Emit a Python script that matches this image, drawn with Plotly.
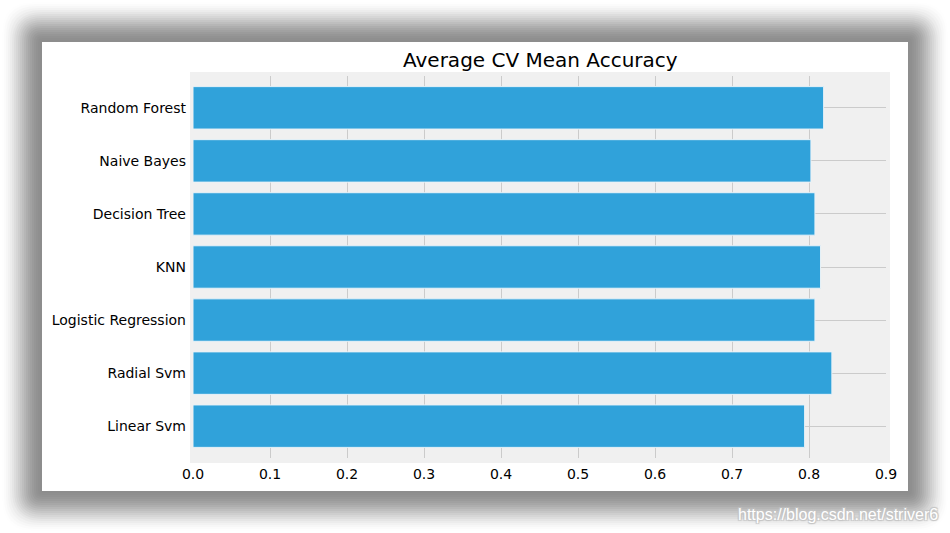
import math
import plotly.graph_objects as go

models = ["Linear Svm", "Radial Svm", "Logistic Regression", "KNN",
          "Decision Tree", "Naive Bayes", "Random Forest"]
accuracy = [0.7943, 0.8297, 0.8077, 0.8150, 0.8077, 0.8025, 0.8190]
x_ticks = [0.0, 0.1, 0.2, 0.3, 0.4, 0.5, 0.6, 0.7, 0.8, 0.9]
title_text = "Average CV Mean Accuracy"
watermark = "https://blog.csdn.net/striver6"

W, H = 950, 533
L, R, T, B = 193, 886, 76, 458  # plot-area pixel box


def px(x, y):
    return (x - L) / (R - L), (B - y) / (B - T)


def rrect_path(x0, y0, x1, y1, r):
    def P(x, y):
        a, b = px(x, y)
        return f"{a:.5f},{b:.5f}"
    d = f"M {P(x0 + r, y0)} L {P(x1 - r, y0)} Q {P(x1, y0)} {P(x1, y0 + r)} "
    d += f"L {P(x1, y1 - r)} Q {P(x1, y1)} {P(x1 - r, y1)} "
    d += f"L {P(x0 + r, y1)} Q {P(x0, y1)} {P(x0, y1 - r)} "
    d += f"L {P(x0, y0 + r)} Q {P(x0, y0)} {P(x0 + r, y0)} Z"
    return d


# soft drop shadow built from stacked translucent rounded rectangles
SPREAD = 42.0


def shadow_alpha(d):
    t = min(max(d / SPREAD, 0.0), 1.0)
    s = 1 - (3 * t * t - 2 * t * t * t)
    return 0.42 * s


shapes = []
cx0, cy0, cx1, cy1 = 42, 42, 908, 491
steps = list(range(2, 46, 2))  # expansions in px
trans = [1 - shadow_alpha(e - 1) for e in steps] + [1.0]
for k in range(len(steps) - 1, -1, -1):
    e = steps[k]
    a = 1 - trans[k] / trans[k + 1]
    if a <= 0.0005:
        continue
    shapes.append(dict(type="path", xref="paper", yref="paper", layer="below",
                       path=rrect_path(cx0 - e, cy0 - e, cx1 + e, cy1 + e, min(e, 30)),
                       fillcolor=f"rgba(0,0,0,{a:.4f})", line=dict(width=0)))
# white card
a0, b0 = px(cx0, cy1)
a1, b1 = px(cx1, cy0)
shapes.append(dict(type="rect", xref="paper", yref="paper", layer="below",
                   x0=a0, y0=b0, x1=a1, y1=b1, fillcolor="white", line=dict(width=0)))
# axes background (slightly larger than data area like mpl edge)
a0, b0 = px(190, 463)
a1, b1 = px(890, 72)
shapes.append(dict(type="rect", xref="paper", yref="paper", layer="below",
                   x0=a0, y0=b0, x1=a1, y1=b1, fillcolor="#f0f0f0", line=dict(width=0)))

fig = go.Figure(go.Bar(
    x=accuracy, y=models, orientation="h", width=0.8,
    marker=dict(color="#30a2da", line=dict(color="#e8f2f8", width=1)),
))

wx, wy = px(940, 514)
title_x, title_y = px(540, 60)

fig.update_layout(
    width=W, height=H,
    margin=dict(l=L, r=W - R, t=T, b=H - B, pad=0),
    paper_bgcolor="white", plot_bgcolor="rgba(0,0,0,0)",
    font=dict(family="DejaVu Sans", size=14, color="#000000"),
    showlegend=False,
    shapes=shapes,
    annotations=[
        dict(text=title_text, xref="paper", yref="paper", x=title_x, y=title_y,
             xanchor="center", yanchor="middle", showarrow=False,
             font=dict(family="DejaVu Sans", size=20, color="#000000")),
        dict(text=watermark, xref="paper", yref="paper", x=wx, y=wy,
             xanchor="right", yanchor="middle", showarrow=False,
             font=dict(family="Liberation Sans", size=16, color="#ffffff",
                       shadow="1px 1px 1px #c4c4c4, -1px -1px 1px #c4c4c4, 1px -1px 1px #c4c4c4, -1px 1px 1px #c4c4c4")),
    ],
    xaxis=dict(range=[0, 0.9], tickvals=x_ticks, tickformat=".1f",
               showgrid=True, gridcolor="#cbcbcb", gridwidth=1.2,
               zeroline=False, showline=False, ticks="", ticklen=0,
               ticklabelstandoff=6,
               tickfont=dict(size=14), fixedrange=True),
    yaxis=dict(range=[-0.6, 6.6], categoryorder="array", categoryarray=models,
               showgrid=True, gridcolor="#cbcbcb", gridwidth=1.2,
               zeroline=False, showline=False, ticks="", ticklabelstandoff=6,
               tickfont=dict(size=14), fixedrange=True),
    bargap=0.2,
)

fig.write_html("out.html")
